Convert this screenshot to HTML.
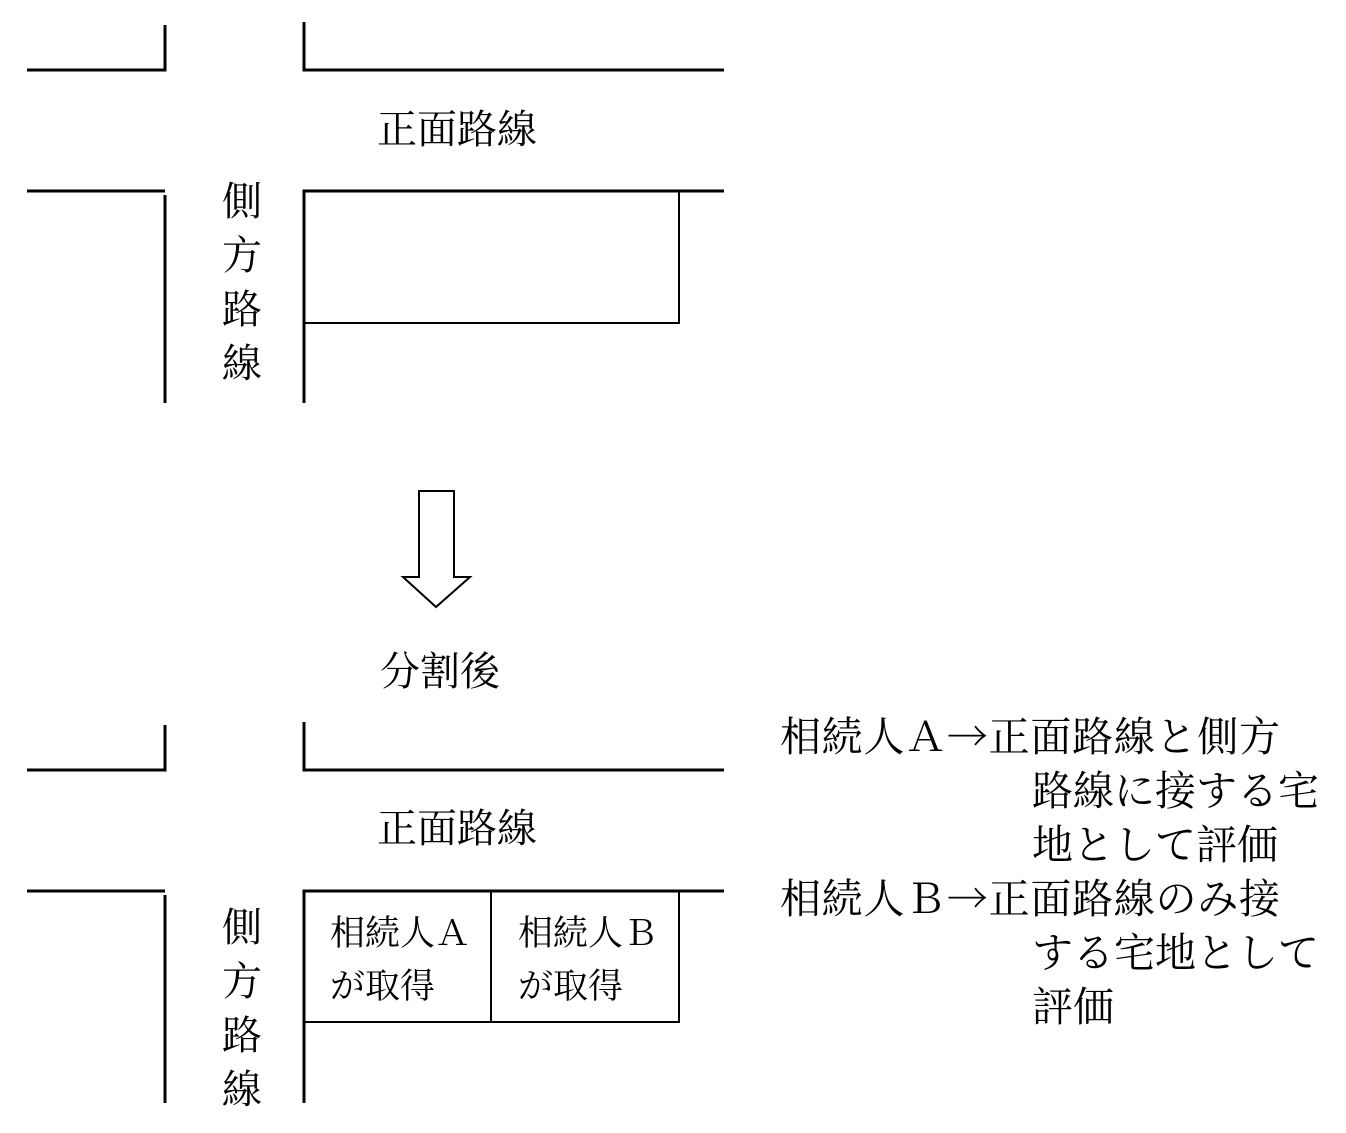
<!DOCTYPE html>
<html><head><meta charset="utf-8"><style>
html,body{margin:0;padding:0;background:#fff;}
svg text{font-family:"Liberation Serif","Noto Serif CJK SC","Noto Serif CJK JP",serif;fill:#000;}
.ar{font-family:"Noto Serif CJK JP","Noto Serif CJK SC",serif;}
</style></head><body>
<svg width="1346" height="1128" viewBox="0 0 1346 1128" xmlns="http://www.w3.org/2000/svg">
<g stroke="#000" stroke-width="3" fill="none">
<polyline points="27,70 165,70 165,25"/>
<polyline points="304,22 304,70 724,70"/>
<line x1="27" y1="191" x2="165" y2="191"/>
<line x1="165" y1="195" x2="165" y2="403"/>
<polyline points="304,403 304,191 724,191"/>
<polyline points="27,770 165,770 165,725"/>
<polyline points="304,722 304,770 724,770"/>
<line x1="27" y1="891" x2="165" y2="891"/>
<line x1="165" y1="895" x2="165" y2="1103"/>
<polyline points="304,1103 304,891 724,891"/>
</g>
<g stroke="#000" stroke-width="2" fill="none">
<polyline points="304,323 679,323 679,191"/>
<polyline points="304,1022 679,1022 679,891"/>
<line x1="491" y1="891" x2="491" y2="1022"/>
<polygon points="419,491 454,491 454,577 470,577 436,607 403,577 419,577"/>
</g>
<g font-size="40">
<text x="377" y="143">正面路線</text>
<text x="222" y="215">側</text>
<text x="222" y="269">方</text>
<text x="222" y="323">路</text>
<text x="222" y="377">線</text>
<text x="380" y="685">分割後</text>
<text x="377" y="842">正面路線</text>
<text x="222" y="941">側</text>
<text x="222" y="995">方</text>
<text x="222" y="1049">路</text>
<text x="222" y="1103">線</text>
</g>
<g font-size="35">
<text x="330" y="945">相続人Ａ</text>
<text x="330" y="998">が取得</text>
<text x="518" y="945">相続人Ｂ</text>
<text x="518" y="998">が取得</text>
</g>
<g font-size="41">
<text x="780" y="751" textLength="500">相続人Ａ<tspan class="ar">→</tspan>正面路線と側方</text>
<text x="1032" y="805">路線に接する宅</text>
<text x="1032" y="859">地として評価</text>
<text x="780" y="913" textLength="500">相続人Ｂ<tspan class="ar">→</tspan>正面路線のみ接</text>
<text x="1032" y="967">する宅地として</text>
<text x="1032" y="1021">評価</text>
</g>
</svg>
</body></html>
